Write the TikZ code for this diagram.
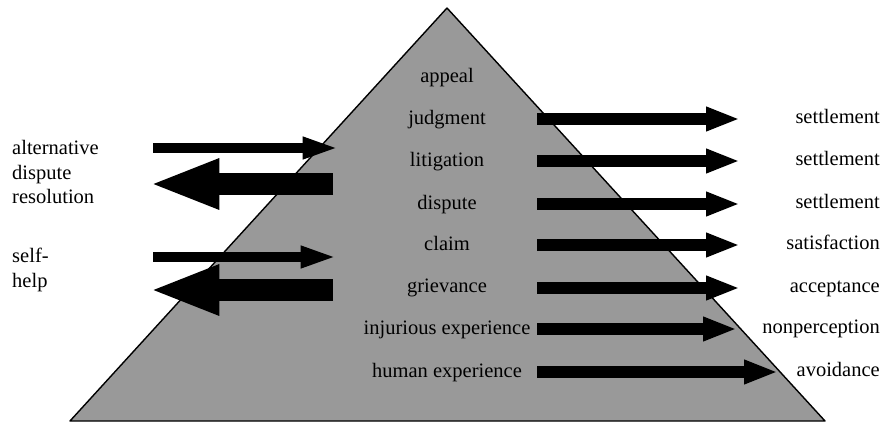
\documentclass[tikz,border=0pt]{standalone}
\usepackage{fontspec}
\setmainfont{Liberation Serif}
\usetikzlibrary{arrows.meta}
\tikzstyle{label}=[inner sep=0pt,text height=11.5pt,text depth=3pt,font=\fontsize{17.5}{20.8}\selectfont]
\tikzstyle{outcome}=[label,anchor=east]
\tikzstyle{thinarrow}=[line width=8.5pt,-{Triangle[length=31pt,width=17pt]}]
\tikzstyle{fatarrow}=[line width=18pt,-{Triangle[length=60pt,width=39pt]}]
\tikzstyle{outarrow}=[line width=10pt,-{Triangle[length=29pt,width=19pt]}]

\begin{document}
\begin{tikzpicture}[x=0.03cm,y=-0.03cm]
  \useasboundingbox (0,0) rectangle (883,424);

  % the pyramid
  \coordinate (top) at (447,8);
  \coordinate (bl) at (70,421);
  \coordinate (br) at (825,421);
  \filldraw[fill=black!40,draw=black,line width=1.2pt,line join=round] (top) -- (br) -- (bl) -- cycle;

  \node[label] (appeal) at (447,78) {appeal};
  \node[label] (judgment) at (447,120) {judgment};
  \node[label] (litigation) at (447,162) {litigation};
  \node[label] (dispute) at (447,205) {dispute};
  \node[label] (claim) at (447,246) {claim};
  \node[label] (grievance) at (447,288) {grievance};
  \node[label] (injury) at (447,330) {injurious experience};
  \node[label] (human) at (447,373) {human experience};

  % left side
  \node[label,anchor=west,align=left,text height=,text depth=] (adr) at (12,172) {alternative\\dispute\\resolution};
  \node[label,anchor=west,align=left,text height=,text depth=] (selfhelp) at (12,270) {self-\\help};

  \coordinate (adr1) at (153,148);
  \coordinate (adr2) at (339,148);
  \coordinate (adr3) at (333,184);
  \coordinate (adr4) at (149,184);
  \coordinate (sh1) at (153,257);
  \coordinate (sh2) at (337,257);
  \coordinate (sh3) at (333,290);
  \coordinate (sh4) at (149,290);
  \draw[thinarrow] (adr1) -- (adr2);
  \draw[fatarrow] (adr3) -- (adr4);
  \draw[thinarrow] (sh1) -- (sh2);
  \draw[fatarrow] (sh3) -- (sh4);

  % right side
  \foreach \y/\tip/\txt [count=\i] in {119/740/settlement,161/740/settlement,204/740/settlement,
      245/740/satisfaction,288/740/acceptance,329/737/nonperception,372/778/avoidance}{
    \coordinate (s\i) at (537,\y);
    \coordinate (t\i) at (\tip,\y);
    \node[outcome] (o\i) at (880,\y) {\txt};
    \draw[outarrow] (s\i) -- (t\i);
  }
\end{tikzpicture}
\end{document}
